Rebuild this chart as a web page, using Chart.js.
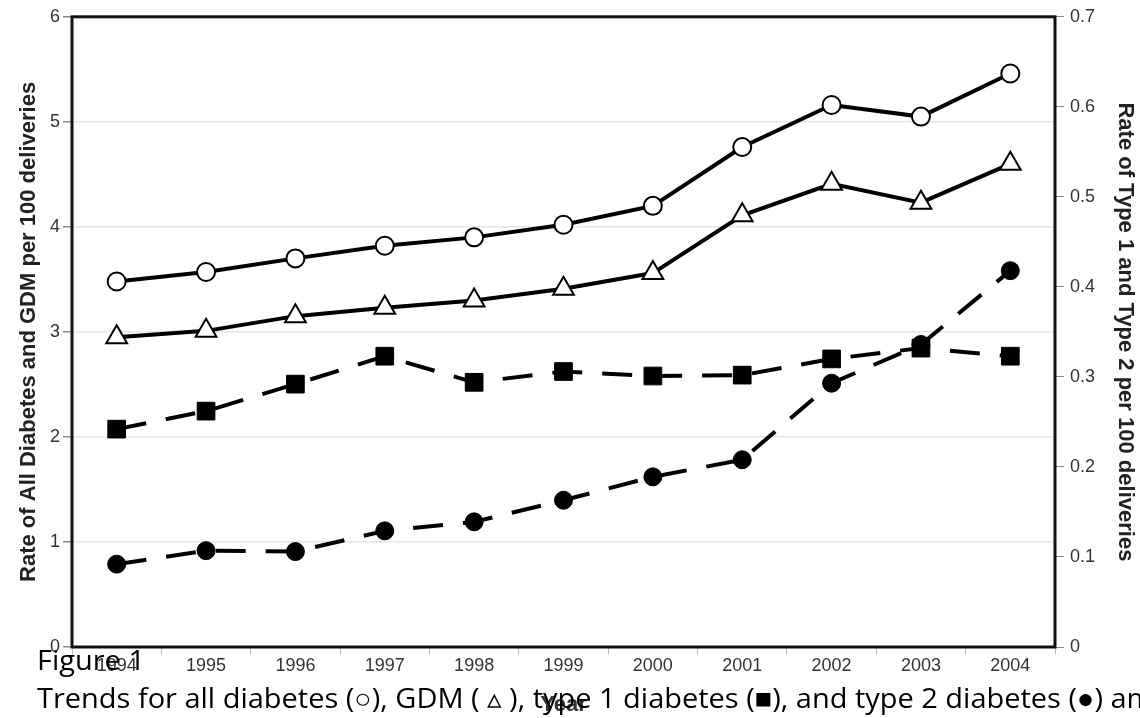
<!DOCTYPE html>
<html>
<head>
<meta charset="utf-8">
<script src="https://cdn.jsdelivr.net/npm/chart.js@4.4.1/dist/chart.umd.min.js"></script>
<style>
  html, body { margin: 0; padding: 0; background: #fff; }
  #wrap { position: relative; width: 1140px; height: 718px; overflow: hidden; }
  canvas { position: absolute; left: 0; top: 0; }
  .cap { position: absolute; left: 37px; font-family: "Open Sans", sans-serif; font-size: 28px; line-height: 28px; color: #000; white-space: nowrap; transform-origin: 0 0; }
</style>
</head>
<body>
<div id="wrap">
  <canvas id="c" width="1140" height="718"></canvas>
  <div class="cap" id="cap1" style="top:645px;">Figure 1</div>
  <div class="cap" id="cap2" style="top:683px;"><span id="capA">Trends for all diabetes (○), GDM ( ▵ ), type 1 diabetes (■), and type 2 diabetes (●)</span> among</div>
</div>
<script>
const years = ['1994','1995','1996','1997','1998','1999','2000','2001','2002','2003','2004'];
const allDiabetes = [3.48, 3.57, 3.70, 3.82, 3.90, 4.02, 4.20, 4.76, 5.16, 5.05, 5.46];
const gdm = [2.95, 3.01, 3.15, 3.23, 3.30, 3.41, 3.56, 4.11, 4.41, 4.23, 4.60];
const type1 = [0.242, 0.262, 0.292, 0.323, 0.294, 0.306, 0.301, 0.302, 0.320, 0.332, 0.323];
const type2 = [0.092, 0.107, 0.106, 0.129, 0.139, 0.163, 0.189, 0.208, 0.293, 0.336, 0.418];
const leftTitle = 'Rate of All Diabetes and GDM per 100 deliveries';
const rightTitle = 'Rate of Type 1 and Type 2 per 100 deliveries';
const xTitle = 'Year';

// fit caption width (Calibri-like narrow text)
function fitCaption() {
  const c1 = document.getElementById('cap1'), c2 = document.getElementById('cap2');
  c1.style.transform = ''; c2.style.transform = '';
  const w = document.getElementById('capA').getBoundingClientRect().width;
  const s = 1066 / w;
  c1.style.transform = 'scaleX(' + s + ')';
  c2.style.transform = 'scaleX(' + s + ')';
}
fitCaption();
if (document.fonts && document.fonts.load) {
  document.fonts.load('28px "Open Sans"').then(fitCaption);
}

const frame = {
  id: 'frame',
  afterDatasetsDraw(chart) {
    const {ctx, chartArea: a} = chart;
    ctx.save();
    ctx.strokeStyle = '#111';
    ctx.lineWidth = 3;
    ctx.strokeRect(a.left, a.top, a.right - a.left, a.bottom - a.top);
    ctx.restore();
  }
};

const tickFont = { family: 'Liberation Sans, Arial, sans-serif', size: 18 };
const titleFont = { family: 'Liberation Sans, Arial, sans-serif', size: 22, weight: 'bold' };

new Chart(document.getElementById('c'), {
  type: 'line',
  data: {
    labels: years,
    datasets: [
      { label: 'All diabetes', data: allDiabetes, yAxisID: 'y', borderColor: '#000', borderWidth: 4,
        pointStyle: 'circle', pointRadius: 9, pointBackgroundColor: '#fff', pointBorderColor: '#000', pointBorderWidth: 2 },
      { label: 'GDM', data: gdm, yAxisID: 'y', borderColor: '#000', borderWidth: 4,
        pointStyle: 'triangle', pointRadius: 12, pointBackgroundColor: '#fff', pointBorderColor: '#000', pointBorderWidth: 2 },
      { label: 'Type 1', data: type1, yAxisID: 'y1', borderColor: '#000', borderWidth: 4, borderDash: [30, 20],
        pointStyle: 'rect', pointRadius: 12.5, pointBackgroundColor: '#000', pointBorderColor: '#000', pointBorderWidth: 1 },
      { label: 'Type 2', data: type2, yAxisID: 'y1', borderColor: '#000', borderWidth: 4, borderDash: [30, 20],
        pointStyle: 'circle', pointRadius: 9, pointBackgroundColor: '#000', pointBorderColor: '#000', pointBorderWidth: 1 }
    ]
  },
  options: {
    responsive: false,
    animation: false,
    layout: { padding: { top: 16, left: 0, right: 0, bottom: 0 } },
    plugins: { legend: { display: false }, tooltip: { enabled: false } },
    elements: { line: { tension: 0 } },
    scales: {
      x: {
        type: 'category', offset: true,
        grid: { display: true, drawOnChartArea: false, offset: true, tickLength: 7, tickColor: '#bbb' },
        border: { display: false },
        ticks: { font: tickFont, color: '#333', padding: 1, maxRotation: 0 },
        title: { display: true, text: xTitle, font: titleFont, color: '#333', padding: 0 },
        afterFit(s) { s.height = 71; }
      },
      y: {
        position: 'left', min: 0, max: 6,
        grid: { color: '#e6e6e6', lineWidth: 1.5, tickColor: '#888', tickLength: 9 },
        border: { display: false },
        ticks: { stepSize: 1, font: tickFont, color: '#333', padding: 3 },
        title: { display: true, text: leftTitle, font: titleFont, color: '#222', padding: { top: 16, bottom: 0 } },
        afterFit(s) { s.width = 72; }
      },
      y1: {
        position: 'right', min: 0, max: 0.7,
        grid: { drawOnChartArea: false, tickColor: '#888', tickLength: 9 },
        border: { display: false },
        ticks: { stepSize: 0.1, font: tickFont, color: '#333', padding: 6,
          callback: (v) => (Math.abs(v) < 1e-9 ? '0' : v.toFixed(1)) },
        title: { display: true, text: rightTitle, font: titleFont, color: '#222', padding: { top: 2, bottom: 0 } },
        afterFit(s) { s.width = 85; }
      }
    }
  },
  plugins: [frame]
});
</script>
</body>
</html>
